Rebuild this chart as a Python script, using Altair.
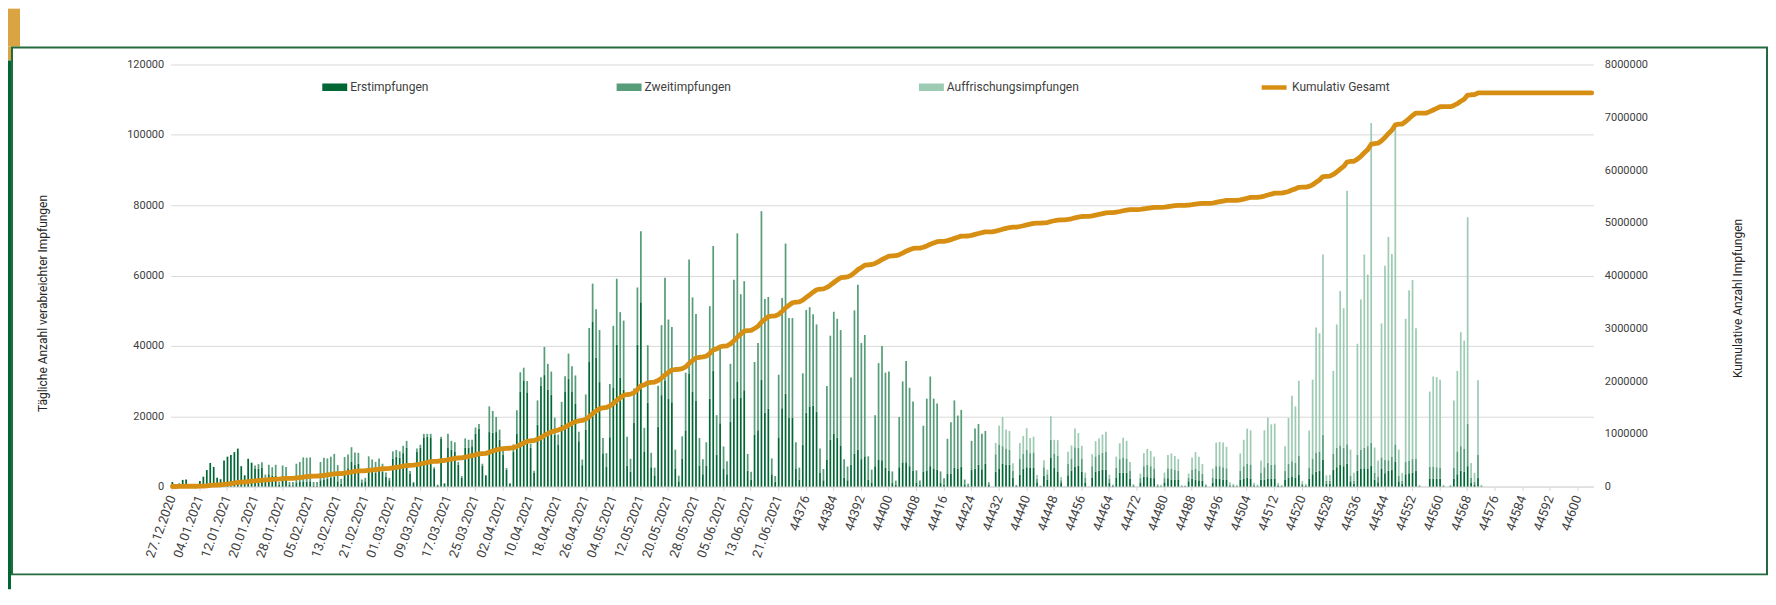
import altair as alt
import pandas as pd

SERIES = ["Erstimpfungen", "Zweitimpfungen", "Auffrischungsimpfungen"]
BAR_COLORS = ["#006633", "#579d79", "#9ecbb4"]
LINE_NAME = "Kumulativ Gesamt"
LINE_COLOR = "#d68f12"
START_DATE = "2020-12-27"
START_SERIAL = 44192
SERIAL_FROM_DAY = 184

# daily values, one row per week (Sun..Sat), starting 27.12.2020
ERST = [
    1300, 0, 900, 1900, 2000, 0, 0,
    0, 1600, 2800, 4700, 6700, 5600, 2500,
    2100, 7400, 8500, 9000, 9800, 10800, 5800,
    3200, 7900, 6800, 5000, 5000, 5400, 2600,
    3500, 3000, 3000, 600, 3000, 2800, 500,
    400, 1200, 1300, 1500, 1400, 1500, 300,
    300, 1800, 2000, 2200, 2500, 2800, 1500,
    800, 4500, 5200, 7000, 6200, 6500, 1200,
    1500, 4500, 4200, 4000, 5000, 4200, 2800,
    1800, 8000, 8500, 8200, 9500, 11000, 3600,
    1000, 10000, 11000, 14000, 14200, 14000, 5000,
    400, 13500, 800, 11000, 10500, 10000, 6200,
    2500, 11000, 11000, 11500, 15000, 16500, 6000,
    3000, 15500, 15300, 15500, 13300, 9000, 4800,
    900, 10000, 15100, 27000, 30200, 26800, 11000,
    4000, 17600, 28700, 31700, 27500, 26100, 14800,
    12000, 17600, 27000, 30700, 26900, 23500, 12900,
    6100, 16100, 35600, 46800, 36700, 29700, 9500,
    5600, 14000, 28200, 40300, 31000, 27500, 5900,
    4200, 18200, 40300, 52400, 10000, 23800, 5500,
    3200, 17000, 26000, 30000, 25000, 24000, 5000,
    1500, 8000, 16000, 32000, 27000, 24500, 6000,
    3500, 6000, 25000, 33000, 9000, 18000, 5000,
    3500, 18500, 25100, 29900, 25200, 27400, 4500,
    2000, 14800, 16000, 30400, 21000, 22100, 3500,
    1400, 14000, 22300, 26400, 19500, 19600, 5000,
    2000, 11900, 21000, 22800, 23000, 21300, 4000,
    1800, 7700, 13300, 15100, 13900, 11700, 2500,
    1800, 6200, 9400, 10500, 7800, 8600, 2000,
    1200, 5800, 7700, 7500, 5300, 4600, 1000,
    500, 5500, 6900, 6900, 5800, 4600, 1200,
    500, 4300, 4600, 5800, 5000, 4800, 1000,
    600, 3700, 3700, 5400, 5000, 5600, 600,
    300, 4700, 5100, 6200, 4900, 6500, 500,
    0, 4200, 5000, 6500, 6300, 6200, 2500,
    200, 3400, 5100, 5500, 5300, 5400, 1200,
    100, 3100, 2000, 8300, 5400, 4300, 1000,
    0, 3200, 4500, 5700, 6000, 4200, 1200,
    0, 2600, 4300, 4500, 4800, 4800, 1100,
    200, 2600, 4000, 4000, 4000, 2300, 200,
    0, 1200, 2800, 2700, 2500, 2400, 200,
    100, 1200, 2400, 2000, 2000, 2000, 100,
    100, 1500, 2300, 2000, 1800, 1600, 200,
    0, 1100, 2300, 2300, 2000, 2000, 300,
    200, 100, 1900, 2300, 2500, 2300, 300,
    100, 2000, 2000, 2300, 2200, 2300, 300,
    100, 2000, 2500, 2700, 2600, 3300, 400,
    200, 2300, 3500, 4200, 4500, 7700, 800,
    800, 4800, 5500, 6200, 5800, 6500, 1500,
    800, 4500, 5000, 5200, 5000, 6000, 2000,
    1200, 5000, 3800, 4500, 4800, 7000, 1500,
    800, 3500, 3800, 4000, 4500, 100, 0,
    0, 2300, 2300, 2200, 2200, 100, 0,
    100, 2300, 3500, 4500, 4200, 5800, 1000,
    600, 2500, 100, 0, 0, 0, 0,
    0, 0, 0, 0, 0, 0, 0,
    0, 0, 0, 0, 0, 0, 0,
    0, 0, 0, 0, 0, 0, 0,
    0, 0, 0, 0, 0, 0, 0,
]
ZWEIT = [
    0, 0, 0, 0, 0, 0, 0,
    0, 0, 0, 0, 0, 0, 0,
    0, 0, 0, 0, 0, 0, 0,
    0, 0, 0, 1000, 1400, 1500, 800,
    2700, 2500, 3200, 700, 3000, 2800, 800,
    900, 5300, 5700, 6800, 6800, 6800, 1000,
    1000, 5200, 6200, 5800, 6000, 6500, 4600,
    1400, 3900, 3900, 4200, 3500, 3100, 800,
    1000, 4100, 3500, 3000, 3000, 2300, 1200,
    700, 2000, 1900, 1800, 2100, 2000, 800,
    300, 800, 900, 1000, 800, 1000, 500,
    100, 700, 200, 4000, 2500, 2600, 800,
    500, 2700, 2300, 1800, 1800, 1300, 500,
    300, 7300, 6200, 4300, 2900, 1500, 500,
    100, 2000, 6600, 5500, 3600, 3200, 1200,
    500, 6900, 2400, 8000, 7400, 6600, 4800,
    2800, 6500, 4400, 7100, 7300, 8100, 2700,
    1600, 10100, 9500, 10900, 13700, 14800, 4300,
    3900, 15200, 17500, 18800, 18600, 19700, 8300,
    3700, 9700, 16300, 20200, 6700, 16400, 4100,
    2200, 11700, 19900, 29400, 22500, 21400, 5500,
    1600, 6300, 16400, 32600, 26800, 24600, 7800,
    4300, 6600, 26300, 35400, 11300, 21600, 6400,
    3700, 16400, 33700, 42100, 29500, 31000, 4800,
    2200, 20600, 24800, 47900, 32300, 31800, 4500,
    1600, 17800, 31300, 42700, 28400, 28300, 7600,
    3400, 20300, 29200, 28200, 26000, 24800, 6800,
    3200, 20900, 29600, 34600, 33800, 32800, 5300,
    3900, 24800, 40700, 46900, 33000, 34500, 6600,
    3600, 14500, 27400, 32500, 27100, 28100, 3300,
    1200, 14300, 23000, 28800, 22300, 19600, 3400,
    1200, 13000, 20400, 25500, 20000, 18800, 3300,
    1800, 9900, 14600, 19100, 15200, 16200, 1400,
    500, 8300, 11400, 11600, 10100, 9300, 700,
    0, 5000, 7000, 5000, 4500, 4200, 2000,
    200, 4500, 4300, 5000, 4200, 4300, 1000,
    100, 2400, 1500, 5000, 4000, 4500, 800,
    0, 3300, 3500, 5500, 5000, 3800, 1400,
    0, 3200, 4300, 4500, 4800, 5000, 1100,
    200, 2800, 3800, 4300, 4000, 2300, 200,
    0, 1200, 3000, 3500, 3300, 2800, 200,
    200, 1200, 2800, 3000, 2800, 2500, 100,
    100, 1000, 2500, 3000, 2700, 2000, 200,
    0, 1500, 3500, 3500, 3500, 3200, 300,
    200, 100, 2600, 3500, 4000, 4000, 300,
    200, 2000, 3500, 4500, 4000, 4000, 300,
    100, 2500, 4000, 4500, 4200, 5500, 400,
    200, 3000, 4500, 5500, 5500, 7000, 800,
    800, 4500, 5500, 5500, 5200, 5500, 1500,
    800, 4500, 5500, 5800, 6500, 6500, 2000,
    1500, 3300, 3800, 3000, 3600, 5000, 1500,
    800, 3500, 3500, 3800, 3500, 100, 0,
    0, 3400, 3400, 3300, 3200, 100, 0,
    100, 3000, 6500, 7000, 6500, 12000, 1500,
    800, 6500, 100, 0, 0, 0, 0,
    0, 0, 0, 0, 0, 0, 0,
    0, 0, 0, 0, 0, 0, 0,
    0, 0, 0, 0, 0, 0, 0,
    0, 0, 0, 0, 0, 0, 0,
]
AUFFR = [
    0, 0, 0, 0, 0, 0, 0,
    0, 0, 0, 0, 0, 0, 0,
    0, 0, 0, 0, 0, 0, 0,
    0, 0, 0, 0, 0, 0, 0,
    0, 0, 0, 0, 0, 0, 0,
    0, 0, 0, 0, 0, 0, 0,
    0, 0, 0, 0, 0, 0, 0,
    0, 0, 0, 0, 0, 0, 0,
    0, 0, 0, 0, 0, 0, 0,
    0, 0, 0, 0, 0, 0, 0,
    0, 0, 0, 0, 0, 0, 0,
    0, 0, 0, 0, 0, 0, 0,
    0, 0, 0, 0, 0, 0, 0,
    0, 0, 0, 0, 0, 0, 0,
    0, 0, 0, 0, 0, 0, 0,
    0, 0, 0, 0, 0, 0, 0,
    0, 0, 0, 0, 0, 0, 0,
    0, 0, 0, 0, 0, 0, 0,
    0, 0, 0, 0, 0, 0, 0,
    0, 0, 0, 0, 0, 0, 0,
    0, 0, 0, 0, 0, 0, 0,
    0, 0, 0, 0, 0, 0, 0,
    0, 0, 0, 0, 0, 0, 0,
    0, 0, 0, 0, 0, 0, 0,
    0, 0, 0, 0, 0, 0, 0,
    0, 0, 0, 0, 0, 0, 0,
    0, 0, 0, 0, 0, 0, 0,
    0, 0, 0, 0, 0, 0, 0,
    0, 0, 0, 0, 0, 0, 0,
    0, 0, 0, 0, 0, 0, 0,
    0, 0, 0, 0, 0, 0, 0,
    0, 0, 0, 0, 0, 0, 0,
    0, 0, 0, 0, 0, 0, 0,
    0, 0, 0, 0, 0, 0, 0,
    0, 3200, 5300, 8300, 5400, 5400, 2100,
    100, 4500, 5000, 6100, 4300, 4500, 1100,
    100, 2000, 1300, 6700, 3900, 4400, 900,
    100, 3400, 3700, 5300, 4200, 3600, 1400,
    100, 3400, 4300, 4700, 5200, 5800, 1200,
    200, 3100, 4500, 5600, 5000, 2400, 300,
    100, 1300, 3700, 4500, 4300, 3300, 300,
    200, 1600, 3800, 4400, 3900, 3300, 200,
    100, 1200, 3500, 4800, 4000, 2800, 300,
    0, 2500, 6700, 6900, 7000, 6100, 600,
    400, 300, 4900, 7500, 10000, 9700, 500,
    300, 3400, 10500, 12800, 11500, 11600, 400,
    300, 7000, 13000, 18600, 16000, 21300, 800,
    400, 10600, 22400, 35500, 33600, 51300, 1600,
    1700, 23600, 35100, 43900, 39700, 72100, 7500,
    2300, 31600, 42700, 55000, 48800, 90900, 7100,
    4700, 38100, 55200, 63500, 57700, 90800, 7500,
    2300, 40700, 48500, 50900, 37000, 300, 0,
    0, 21300, 25600, 25600, 25000, 300, 0,
    300, 19200, 22900, 32400, 30800, 58800, 4200,
    2500, 21200, 300, 0, 0, 0, 0,
    0, 0, 0, 0, 0, 0, 0,
    0, 0, 0, 0, 0, 0, 0,
    0, 0, 0, 0, 0, 0, 0,
    0, 0, 0, 0, 0, 0, 0,
]

X_TICKS = [
    "27.12.2020", "04.01.2021", "12.01.2021", "20.01.2021", "28.01.2021",
    "05.02.2021", "13.02.2021", "21.02.2021", "01.03.2021", "09.03.2021",
    "17.03.2021", "25.03.2021", "02.04.2021", "10.04.2021", "18.04.2021",
    "26.04.2021", "04.05.2021", "12.05.2021", "20.05.2021", "28.05.2021",
    "05.06.2021", "13.06.2021", "21.06.2021",
    "44376", "44384", "44392", "44400", "44408", "44416", "44424", "44432",
    "44440", "44448", "44456", "44464", "44472", "44480", "44488", "44496",
    "44504", "44512", "44520", "44528", "44536", "44544", "44552", "44560",
    "44568", "44576", "44584", "44592", "44600",
]
Y_LEFT_TICKS = [0, 20000, 40000, 60000, 80000, 100000, 120000]
Y_RIGHT_TICKS = [0, 1000000, 2000000, 3000000, 4000000, 5000000, 6000000, 7000000, 8000000]

n = len(ERST)
dates = pd.date_range(START_DATE, periods=n, freq="D")
cats = [dates[d].strftime("%d.%m.%Y") if d < SERIAL_FROM_DAY else str(START_SERIAL + d) for d in range(n)]

rows = []
for d in range(n):
    for k, vals in enumerate([ERST, ZWEIT, AUFFR]):
        rows.append({"cat": cats[d], "day": d, "series": SERIES[k], "ord": k, "value": vals[d]})
bars_df = pd.DataFrame(rows)
line_df = pd.DataFrame({
    "cat": cats,
    "day": list(range(n)),
    "total": [ERST[d] + ZWEIT[d] + AUFFR[d] for d in range(n)],
    "name": [LINE_NAME] * n,
})

FONT = "Roboto"
TXT = "#404040"
GRID = "#d9d9d9"

x_enc = alt.X(
    "cat:O",
    sort=cats,
    scale=alt.Scale(domain=cats, paddingInner=0.5, paddingOuter=0.25),
    axis=alt.Axis(
        values=X_TICKS, labelAngle=290, labelAlign="right", labelBaseline="middle",
        labelFontSize=13, labelFont=FONT, labelColor=TXT, labelPadding=5,
        labelOverlap=False, domainColor=GRID, tickColor=GRID, tickSize=4, title=None,
    ),
)

y_left = alt.Y(
    "value:Q", stack="zero",
    scale=alt.Scale(domain=[0, 120000], nice=False),
    axis=alt.Axis(
        values=Y_LEFT_TICKS, format="d", grid=True, gridColor=GRID, domain=False, ticks=False,
        labelPadding=7, labelFontSize=11, labelFont=FONT, labelColor=TXT,
        title="Tägliche Anzahl verabreichter Impfungen", titleFont=FONT, titleFontSize=12,
        titleFontWeight="normal", titleColor="#262626", titleX=-128, titleY=239,
        titleAngle=270, titleAlign="center", titleBaseline="middle",
    ),
)

y_right = alt.Y(
    "cum:Q",
    scale=alt.Scale(domain=[0, 8000000], nice=False),
    axis=alt.Axis(
        orient="right", values=Y_RIGHT_TICKS, format="d", grid=False, domain=False, ticks=False,
        labelPadding=11, labelFontSize=11, labelFont=FONT, labelColor=TXT,
        title="Kumulative Anzahl Impfungen", titleFont=FONT, titleFontSize=12,
        titleFontWeight="normal", titleColor="#262626", titleX=144, titleY=234,
        titleAngle=270, titleAlign="center", titleBaseline="middle",
    ),
)

# decorative frame around the chart
one = pd.DataFrame({"k": [0]})
gold_top = alt.Chart(one).mark_rect(color="#d9a441").encode(
    x=alt.value(-163), x2=alt.value(-151), y=alt.value(-56), y2=alt.value(-18))
gold_side = alt.Chart(one).mark_rect(color="#d9a441").encode(
    x=alt.value(-163), x2=alt.value(-160), y=alt.value(-18), y2=alt.value(-4))
frame = alt.Chart(one).mark_rect(fillOpacity=0, stroke="#236b3e", strokeWidth=2).encode(
    x=alt.value(-159), x2=alt.value(1600), y=alt.value(-17), y2=alt.value(511))
green = alt.Chart(one).mark_rect(color="#006633").encode(
    x=alt.value(-163), x2=alt.value(-160), y=alt.value(-4), y2=alt.value(526))

bars = alt.Chart(bars_df).mark_bar().encode(
    x=x_enc,
    y=y_left,
    color=alt.Color(
        "series:N",
        scale=alt.Scale(domain=SERIES, range=BAR_COLORS),
        legend=alt.Legend(
            title=None, orient="none", legendX=152, legendY=10, direction="horizontal",
            symbolType="M-1,-0.3H1V0.3H-1Z", symbolSize=625, symbolStrokeWidth=0,
            labelFontSize=12, labelFont=FONT, labelColor=TXT, labelOffset=3,
            columnPadding=188, padding=0,
        ),
    ),
    order=alt.Order("ord:Q", sort="ascending"),
)

line = alt.Chart(line_df).transform_window(
    cum="sum(total)", sort=[alt.SortField("day")], frame=[None, 0]
).mark_line(strokeWidth=4.8, strokeCap="round", strokeJoin="round").encode(
    x=x_enc,
    y=y_right,
    order=alt.Order("day:Q"),
    stroke=alt.Stroke(
        "name:N",
        scale=alt.Scale(domain=[LINE_NAME], range=[LINE_COLOR]),
        legend=alt.Legend(
            title=None, orient="none", legendX=1091, legendY=8,
            symbolType="stroke", symbolSize=625, symbolStrokeWidth=4.5,
            labelFontSize=12, labelFont=FONT, labelColor=TXT, labelOffset=3, padding=0,
        ),
    ),
)

chart = alt.layer(gold_top, gold_side, green, frame, bars, line).resolve_scale(
    y="independent"
).properties(
    width=1426,
    height=423,
    autosize=alt.AutoSizeParams(type="none"),
    padding={"left": 163, "top": 56, "right": 175, "bottom": 104},
).configure_view(stroke="transparent")

chart.save("out.html", embed_options={"renderer": "svg", "actions": False})
